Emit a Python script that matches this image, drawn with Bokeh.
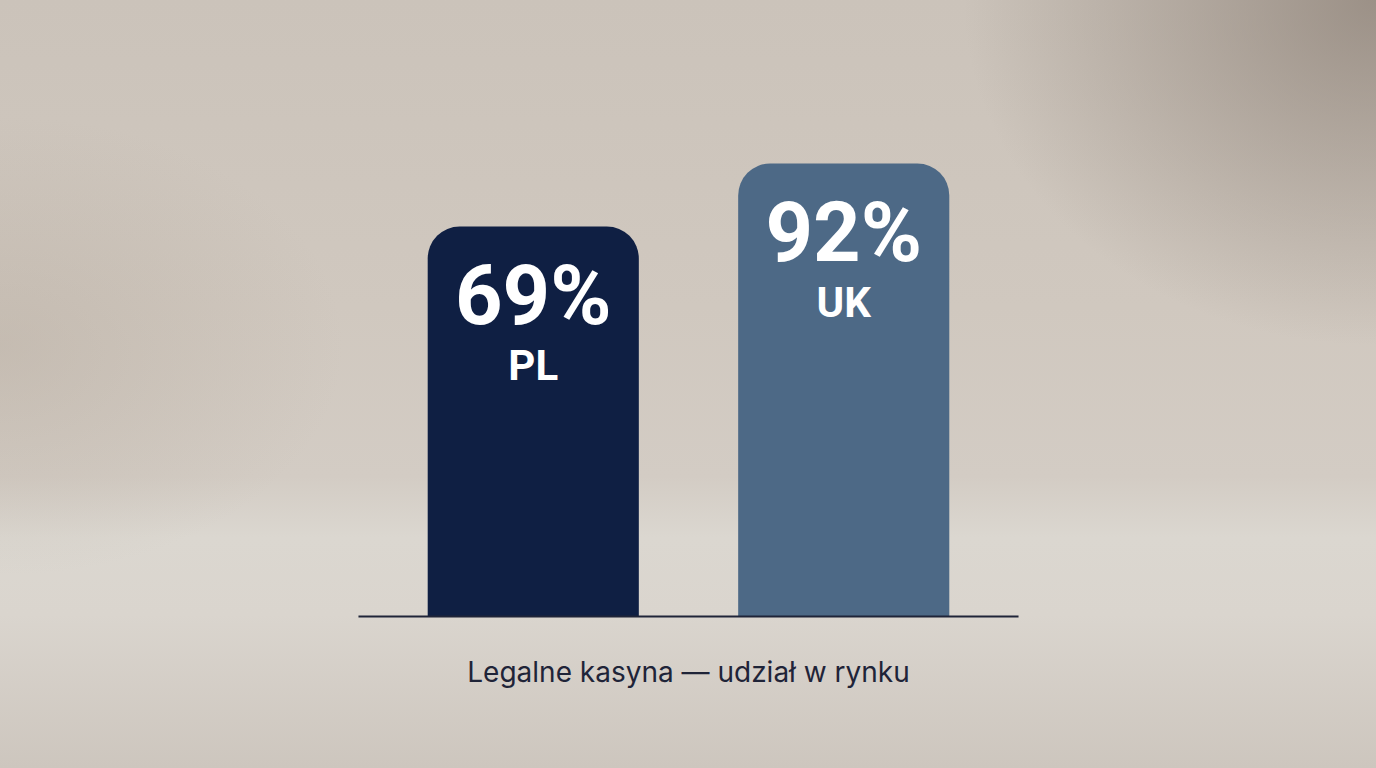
from bokeh.plotting import figure
from bokeh.models import Range1d, ColumnDataSource
from bokeh.core.properties import value
from bokeh.embed import file_html
from bokeh.resources import INLINE

categories = ["PL", "UK"]
shares = [69, 92]
value_labels = ["69%", "92%"]
bar_colors = ["#0f1f43", "#4d6986"]
title_text = "Legalne kasyna — udział w rynku"

BASE = -73.4
idx = list(range(len(categories)))

src = ColumnDataSource(dict(
    x=idx, top=shares, bottom=[BASE] * len(idx), cat=categories,
    lab=value_labels, color=bar_colors,
))

p = figure(width=1376, height=768, output_backend="svg", toolbar_location=None,
           x_range=Range1d(-1.716, 2.716), y_range=Range1d(-128.9, 151.5),
           min_border=0, tools="")
p.axis.visible = False
p.grid.visible = False
p.outline_line_color = None
p.background_fill_alpha = 0
p.border_fill_alpha = 0
p.styles = {
    "background": "radial-gradient(ellipse 30% 45% at 100% 0%, rgba(140,128,118,0.75), rgba(140,128,118,0) 100%),"
                  "radial-gradient(ellipse 25% 30% at 0% 45%, rgba(175,163,150,0.35), rgba(175,163,150,0) 100%),"
                  "linear-gradient(180deg, #cbc3ba 0%, #d0c8bf 40%, #d3ccc4 62%, #dbd7d0 70%, #dad5ce 80%, #cdc6be 100%)"
}

p.vbar(x="x", top="top", bottom="bottom", width=0.68, source=src,
       fill_color="color", line_color=None, border_radius=(32, 32, 0, 0))

p.segment(x0=[-0.563], x1=[1.563], y0=[BASE], y1=[BASE],
          line_color="#1f2438", line_width=2)

p.text(x="x", y="top", text="lab", source=src, y_offset=69,
       text_align="center", text_baseline="middle",
       text_font=value("Roboto"), text_font_style="bold",
       text_font_size="83px", text_color="white")
p.text(x="x", y="top", text="cat", source=src, y_offset=139,
       text_align="center", text_baseline="middle",
       text_font=value("Roboto"), text_font_style="bold",
       text_font_size="42px", text_color="white")

p.text(x=[0.5], y=[BASE], text=[title_text], y_offset=56,
       text_align="center", text_baseline="middle",
       text_font=value("Inter"), text_font_size="28px", text_color="#1f2438")

open("out.html", "w").write(file_html(p, INLINE))
